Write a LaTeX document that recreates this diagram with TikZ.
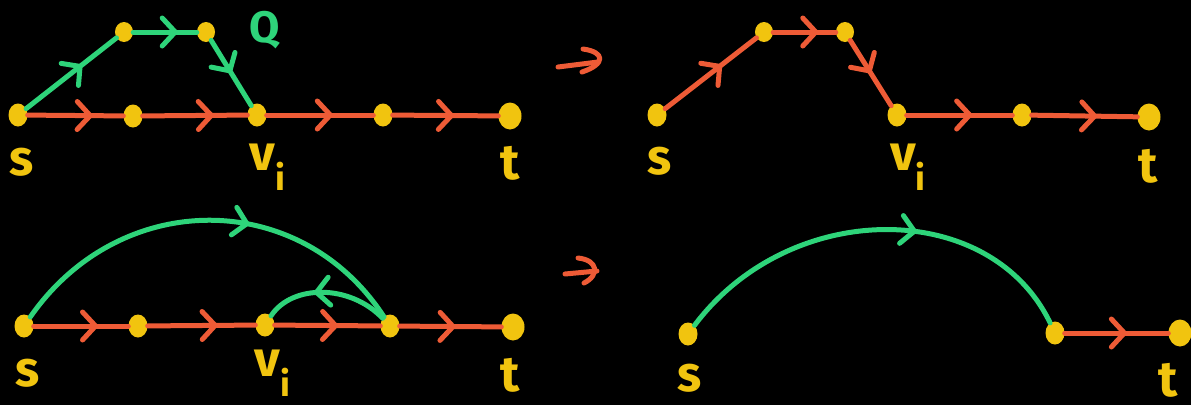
\documentclass[tikz,border=0pt]{standalone}
\usepackage{fontspec}
\setmainfont{Fira Sans}
\usetikzlibrary{arrows.meta,decorations.markings,shapes.geometric}
\definecolor{ored}{HTML}{EE5B36}
\definecolor{grn}{HTML}{2ED47A}
\definecolor{ylw}{HTML}{F1C40F}
\begin{document}
\begin{tikzpicture}[x=1pt,y=-1pt,
  dot/.style={ellipse,fill=ylw,inner sep=0pt,minimum width=19pt,minimum height=23pt},
  bigdot/.style={dot,minimum width=23pt,minimum height=27pt},
  smalldot/.style={dot,minimum width=18pt,minimum height=20pt},
  edge/.style={line width=5pt,line cap=round},
  oedge/.style={edge,color=ored},
  gedge/.style={edge,color=grn},
  chev/.style={postaction={decorate},decoration={markings,mark=at position #1 with {\arrow{Straight Barb[length=13pt,width=28pt,line width=5pt,round]}}}},
  chev/.default=0.55,
  lab/.style={text=ylw,inner sep=0pt,font=\fontsize{50}{50}\selectfont\bfseries},
  hook/.style={line width=5pt,line cap=round,line join=round,color=ored},
]
\fill[black] (0,0) rectangle (1191,405);
\useasboundingbox (0,0) rectangle (1191,405);

% ---------- top left ----------
\node[dot] (a0) at (18,115) {};
\node[dot] (a1) at (133,116) {};
\node[dot] (a2) at (257,115) {};
\node[dot] (a3) at (383,115) {};
\node[bigdot] (a4) at (510,116) {};
\node[smalldot] (aq1) at (124,32) {};
\node[smalldot] (aq2) at (206,32) {};
\draw[oedge,chev=0.68] (a0) -- (a1);
\draw[oedge,chev=0.68] (a1) -- (a2);
\draw[oedge,chev=0.62] (a2) -- (a3);
\draw[oedge,chev=0.58] (a3) -- (a4);
\draw[gedge,chev=0.62] (a0) -- (aq1);
\draw[gedge,chev=0.7] (aq1) -- (aq2);
\draw[gedge,chev=0.5] (aq2) -- (a2);
\node[lab] (ls1) at (22,162) {s};
\node[lab] (lv1) at (268,167) {v\textsubscript{i}};
\node[lab] (lt1) at (510,163) {t};
\node[lab,text=grn,font=\fontsize{44}{44}\selectfont\bfseries] (lq) at (265,30) {Q};

% ---------- transformation arrows ----------
\coordinate (ta0) at (558,67);
\coordinate (ta1) at (598,62);
\coordinate (tb0) at (583,49);
\coordinate (tb1) at (582,72);
\draw[hook] (ta0) -- (ta1);
\draw[hook] (tb0) .. controls (605,52) and (606,64) .. (tb1);
\coordinate (ua0) at (565,274);
\coordinate (ua1) at (597,271);
\coordinate (ub0) at (578,258);
\coordinate (ub1) at (584,283);
\draw[hook] (ua0) -- (ua1);
\draw[hook] (ub0) .. controls (598,260) and (600,275) .. (ub1);

% ---------- top right ----------
\node[dot] (b0) at (657,115) {};
\node[smalldot] (bq1) at (764,32) {};
\node[smalldot] (bq2) at (845,32) {};
\node[dot] (b2) at (897,115) {};
\node[dot] (b3) at (1022,115) {};
\node[bigdot] (b4) at (1149,117) {};
\draw[oedge,chev=0.62] (b0) -- (bq1);
\draw[oedge,chev=0.72] (bq1) -- (bq2);
\draw[oedge,chev=0.5] (bq2) -- (b2);
\draw[oedge,chev=0.62] (b2) -- (b3);
\draw[oedge,chev=0.62] (b3) -- (b4);
\node[lab] (ls2) at (660,161) {s};
\node[lab] (lv2) at (908,167) {v\textsubscript{i}};
\node[lab] (lt2) at (1148,166) {t};

% ---------- bottom left ----------
\node[dot] (c0) at (24,326) {};
\node[dot] (c1) at (138,326) {};
\node[dot] (c2) at (265,325) {};
\node[dot] (c3) at (390,326) {};
\node[bigdot] (c4) at (513,327) {};
\draw[oedge,chev=0.68] (c0) -- (c1);
\draw[oedge,chev=0.65] (c1) -- (c2);
\draw[oedge,chev=0.6] (c2) -- (c3);
\draw[oedge,chev=0.55] (c3) -- (c4);
\draw[gedge,chev=0.6] (c0) .. controls (120,188) and (300,188) .. (c3);
\draw[gedge,chev=0.6] (c3) .. controls (350,284) and (292,284) .. (c2);
\node[lab] (ls3) at (28,373) {s};
\node[lab] (lv3) at (273,373) {v\textsubscript{i}};
\node[lab] (lt3) at (510,375) {t};

% ---------- bottom right ----------
\node[dot] (d0) at (688,334) {};
\node[dot] (d1) at (1055,333) {};
\node[bigdot] (d2) at (1180,333) {};
\draw[gedge,chev=0.6] (d0) .. controls (790,198) and (990,198) .. (d1);
\draw[oedge,chev=0.6] (d1) -- (d2);
\node[lab] (ls4) at (690,378) {s};
\node[lab] (lt4) at (1168,380) {t};
\end{tikzpicture}
\end{document}
